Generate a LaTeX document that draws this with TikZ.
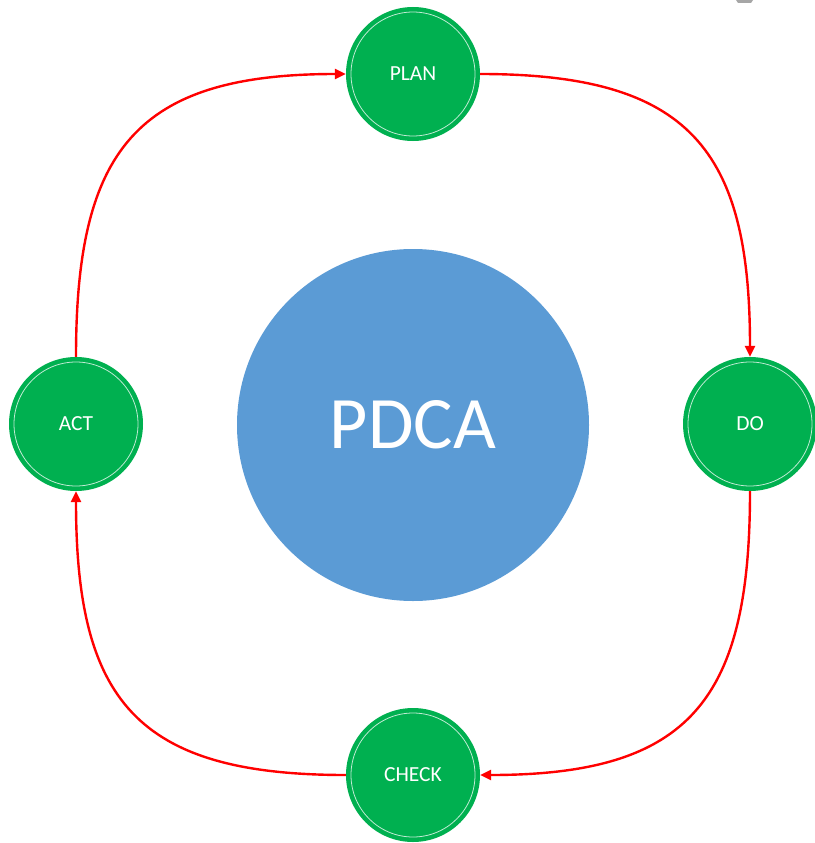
\documentclass[tikz,border=0pt]{standalone}
\usepackage{fontspec}
\setmainfont{Carlito}
\usetikzlibrary{arrows.meta}
\definecolor{pgreen}{HTML}{00B050}
\definecolor{pblue}{HTML}{5B9BD5}
\definecolor{pred}{HTML}{FF0000}
\tikzset{
  stage/.style={circle, fill=pgreen, minimum size=134pt, inner sep=0pt, text=white, font=\fontsize{21.5}{22}\selectfont,
    path picture={\draw[white!75!pgreen, line width=0.8pt] (path picture bounding box.center) circle (62pt);}},
  center/.style={circle, fill=pblue, minimum size=352pt, inner sep=0pt, text=white, font=\fontsize{74}{80}\selectfont},
  flow/.style={pred, line width=2.4pt, -{Triangle[length=11pt,width=10pt]}}
}
\begin{document}
\begin{tikzpicture}[x=1pt,y=-1pt]
\useasboundingbox (0,0) rectangle (814,843);
\fill[white] (0,0) rectangle (814,843);
\fill[gray!70] (736,0) -- (753,0) -- (751,3) -- (738,3) -- cycle;
\node[center] (pdca) at (413,425) {PDCA};
\node[stage] (plan) at (413,74) {PLAN};
\node[stage] (do) at (750,424) {DO};
\node[stage] (check) at (413,775) {CHECK};
\node[stage] (act) at (76,424) {ACT};
\draw[flow] (plan.east) .. controls (690,74) and (750,150) .. (do.north);
\draw[flow] (do.south) .. controls (750,700) and (690,775) .. (check.east);
\draw[flow] (check.west) .. controls (136,775) and (76,700) .. (act.south);
\draw[flow] (act.north) .. controls (76,150) and (136,74) .. (plan.west);
\end{tikzpicture}
\end{document}
